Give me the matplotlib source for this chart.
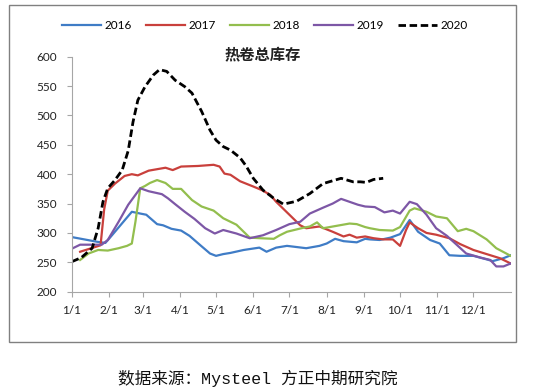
import matplotlib
matplotlib.use("Agg")
import matplotlib.pyplot as plt
from matplotlib.patches import Rectangle

# day of year -> inventory (10k t)
days_2016 = [0, 21, 28, 31, 50, 57, 62, 71, 76, 83, 91, 98, 107, 115, 120, 126, 132, 143, 156, 162,
             170, 179, 195, 206, 212, 219, 226, 237, 244, 248, 256, 265, 273, 281, 288, 298, 306,
             314, 323, 334, 345, 350, 359, 365]
vals_2016 = [293, 285, 283, 290, 336, 333, 331, 315, 313, 307, 304, 295, 279, 265, 261, 264, 266, 271, 275, 268,
             275, 278, 274, 278, 282, 290, 286, 284, 290, 289, 288, 292, 298, 322, 302, 288, 282,
             262, 261, 261, 255, 252, 257, 262]

days_2017 = [7, 21, 24, 27, 30, 36, 44, 50, 55, 64, 78, 84, 91, 105, 118, 123, 127, 132, 140, 151, 158,
             165, 170, 181, 190, 195, 206, 217, 226, 231, 237, 244, 251, 259, 267, 273, 278, 281,
             288, 295, 303, 314, 323, 334, 345, 356, 365]
vals_2017 = [268, 277, 279, 340, 372, 384, 397, 400, 398, 406, 411, 407, 413, 414, 416, 413, 401, 399, 388, 379, 373,
             365, 353, 331, 313, 308, 311, 302, 294, 297, 292, 294, 291, 289, 289, 278, 305, 318,
             308, 300, 297, 291, 281, 271, 264, 257, 248]

days_2018 = [7, 14, 22, 30, 39, 46, 50, 53, 57, 61, 65, 71, 78, 84, 91, 100, 108, 118, 126, 137, 143,
             148, 157, 168, 173, 179, 193, 198, 204, 209, 220, 231, 237, 244, 248, 256, 267, 273,
             281, 285, 295, 303, 312, 321, 328, 334, 345, 353, 365]
vals_2018 = [254, 265, 271, 270, 274, 278, 282, 319, 376, 380, 385, 390, 385, 375, 375, 356, 345, 338, 325, 314, 302,
             292, 291, 290, 296, 302, 309, 311, 318, 308, 312, 316, 315, 310, 308, 305, 304, 310,
             338, 342, 336, 328, 325, 303, 307, 303, 289, 274, 261]

days_2019 = [0, 7, 17, 25, 30, 39, 47, 57, 64, 75, 80, 86, 94, 102, 111, 119, 126, 137, 148, 159, 170,
             181, 190, 198, 209, 217, 224, 231, 238, 244, 252, 260, 267, 273, 281, 287, 295, 303,
             312, 320, 328, 340, 348, 353, 359, 365]
vals_2019 = [273, 280, 280, 280, 288, 319, 348, 376, 371, 366, 359, 349, 336, 324, 308, 299, 305, 299, 291, 296, 305,
             315, 319, 333, 343, 350, 358, 353, 348, 345, 344, 335, 338, 333, 353, 349, 331, 308,
             295, 280, 265, 258, 254, 243, 243, 248]

days_2020 = [0, 8, 17, 22, 26, 30, 36, 42, 47, 51, 55, 61, 68, 73, 79, 86, 94, 100, 108, 115, 120,
             126, 132, 140, 145, 151, 159, 168, 176, 187, 198, 209, 224, 234, 240, 245, 251, 259]
vals_2020 = [251, 258, 274, 308, 353, 376, 390, 407, 440, 489, 526, 549, 569, 578, 575, 560, 549, 538, 507, 475, 458,
             447, 441, 428, 414, 393, 373, 359, 349, 354, 367, 384, 393, 387, 387, 386, 391, 393]

month_days = [0, 31, 59, 90, 120, 151, 181, 212, 243, 273, 304, 334]
month_labels = ["1/1", "2/1", "3/1", "4/1", "5/1", "6/1", "7/1", "8/1", "9/1", "10/1", "11/1", "12/1"]
y_ticks = [200, 250, 300, 350, 400, 450, 500, 550, 600]

fig = plt.figure(figsize=(5.39, 3.91), dpi=100)
ax = fig.add_axes([0.133, 0.254, 0.8145, 0.601])

ax.plot(days_2016, vals_2016, color="#3F7CC6", lw=1.6, label="2016")
ax.plot(days_2017, vals_2017, color="#C9403C", lw=1.6, label="2017")
ax.plot(days_2018, vals_2018, color="#93BE4E", lw=1.6, label="2018")
ax.plot(days_2019, vals_2019, color="#7D57A6", lw=1.6, label="2019")
ax.plot(days_2020, vals_2020, color="black", lw=2.0, dashes=(2.7, 1.3), label="2020")

ax.set_xlim(0, 365)
ax.set_ylim(200, 600)
ax.set_xticks(month_days)
ax.set_xticklabels(month_labels)
ax.set_yticks(y_ticks)

for s in ["top", "right"]:
    ax.spines[s].set_visible(False)
for s in ["left", "bottom"]:
    ax.spines[s].set_color("#A6A6A6")
    ax.spines[s].set_linewidth(0.8)
ax.tick_params(axis="both", direction="out", length=3.5, width=0.8, color="#A6A6A6",
               labelsize=8.5, labelcolor="#222222")
ax.tick_params(axis="y", pad=7)
ax.tick_params(axis="x", pad=6)
for lab in ax.get_xticklabels() + ax.get_yticklabels():
    lab.set_fontfamily("Lato")

ax.set_title("热卷总库存", fontfamily="Noto Sans CJK SC", fontweight="bold", fontsize=11,
             x=0.434, y=0.955, color="#222222")

leg = fig.legend(loc="center", bbox_to_anchor=(0.492, 0.934), ncol=5, frameon=False,
                 handlelength=3.3, columnspacing=1.2, handletextpad=0.3,
                 prop={"family": "Lato", "size": 8.5})

fig.patches.append(Rectangle((9 / 539, 49 / 391), 507 / 539, 337 / 391, transform=fig.transFigure,
                             fill=False, edgecolor="#808080", linewidth=1.0))

fig.text(0.479, 0.033, "数据来源：Mysteel 方正中期研究院", ha="center", va="center", fontsize=12,
         family=["Liberation Mono", "Noto Sans CJK SC"], color="#111111")

fig.savefig("out.png", dpi=100)
